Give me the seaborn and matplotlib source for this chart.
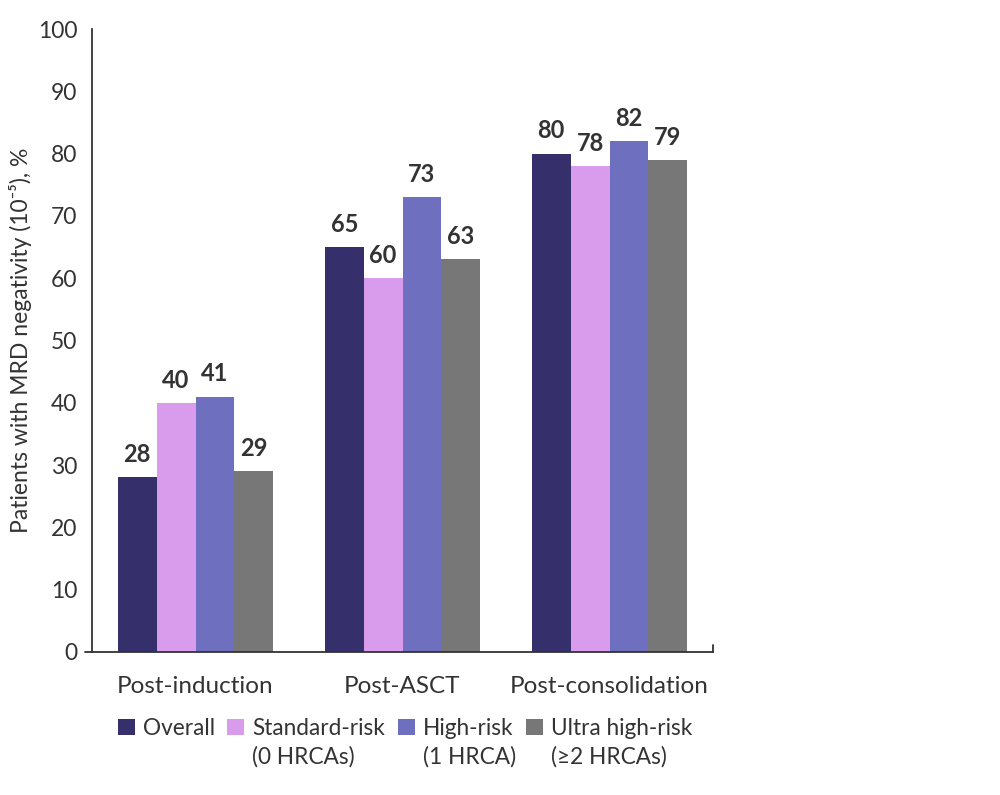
import matplotlib
matplotlib.use("Agg")
import matplotlib.pyplot as plt
import seaborn as sns
import pandas as pd
from matplotlib.patches import Patch

phases = ["Post-induction", "Post-ASCT", "Post-consolidation"]
groups = ["Overall", "Standard-risk", "High-risk", "Ultra high-risk"]
groups_sub = ["", "(0 HRCAs)", "(1 HRCA)", "(≥2 HRCAs)"]
overall = [28, 65, 80]
standard = [40, 60, 78]
high = [41, 73, 82]
ultra = [29, 63, 79]
colors = ["#35306b", "#d99cec", "#6f6fc0", "#777777"]
yticks = [0, 10, 20, 30, 40, 50, 60, 70, 80, 90, 100]

rows = []
for g, vals in zip(groups, [overall, standard, high, ultra]):
    for p, v in zip(phases, vals):
        rows.append({"phase": p, "group": g, "value": v})
df = pd.DataFrame(rows)

sns.set_theme(style="white")
plt.rcParams["font.family"] = ["Lato", "DejaVu Sans"]
txt = "#333333"

fig = plt.figure(figsize=(10, 7.95), dpi=100)
ax = fig.add_axes([0.092, 0.18, 0.621, 0.7835])
sns.barplot(data=df, x="phase", y="value", hue="group", order=phases,
            hue_order=groups, palette=colors, width=0.75, saturation=1,
            ax=ax, legend=False, linewidth=0)

for cont in ax.containers:
    ax.bar_label(cont, fmt="%d", padding=8, fontsize=17, fontweight="bold", color=txt)

ax.set_xlim(-0.5, 2.5)
ax.set_ylim(0, 100)
ax.set_yticks(yticks)
ax.set_xlabel("")
ax.set_ylabel("Patients with MRD negativity (10⁻⁵), %", fontsize=16.5, color=txt, labelpad=4)
ax.tick_params(axis="both", colors=txt, direction="out", length=7, width=1.2)
ax.tick_params(axis="y", labelsize=16.5)
ax.tick_params(axis="x", labelsize=17.5, pad=10)
for s in ["top", "right"]:
    ax.spines[s].set_visible(False)
for s in ["left", "bottom"]:
    ax.spines[s].set_color(txt)
    ax.spines[s].set_linewidth(1.3)
# small axis-line extensions like the reference
ax.plot([-0.012, 0], [0, 0], transform=ax.transAxes, color=txt, lw=1.3, clip_on=False)
ax.plot([1, 1], [0, 0.011], transform=ax.transAxes, color=txt, lw=1.3, clip_on=False)

handles = [Patch(facecolor=c, edgecolor="none") for c in colors]
leg = fig.legend(handles, groups, loc="center", bbox_to_anchor=(0.405, 0.084), ncol=4,
                 frameon=False, fontsize=16.3, handlelength=0.75, handleheight=0.75,
                 handletextpad=0.35, columnspacing=0.55, labelcolor=txt)

fig.canvas.draw()
renderer = fig.canvas.get_renderer()
inv = fig.transFigure.inverted()
for t, sub in zip(leg.get_texts(), groups_sub):
    if not sub:
        continue
    bb = t.get_window_extent(renderer)
    x0, y0 = inv.transform((bb.x0, bb.y0 - 31))
    fig.text(x0, y0 + 0.003, sub, fontsize=16.3, color=txt, ha="left", va="bottom")

fig.savefig("out.png", dpi=100)
